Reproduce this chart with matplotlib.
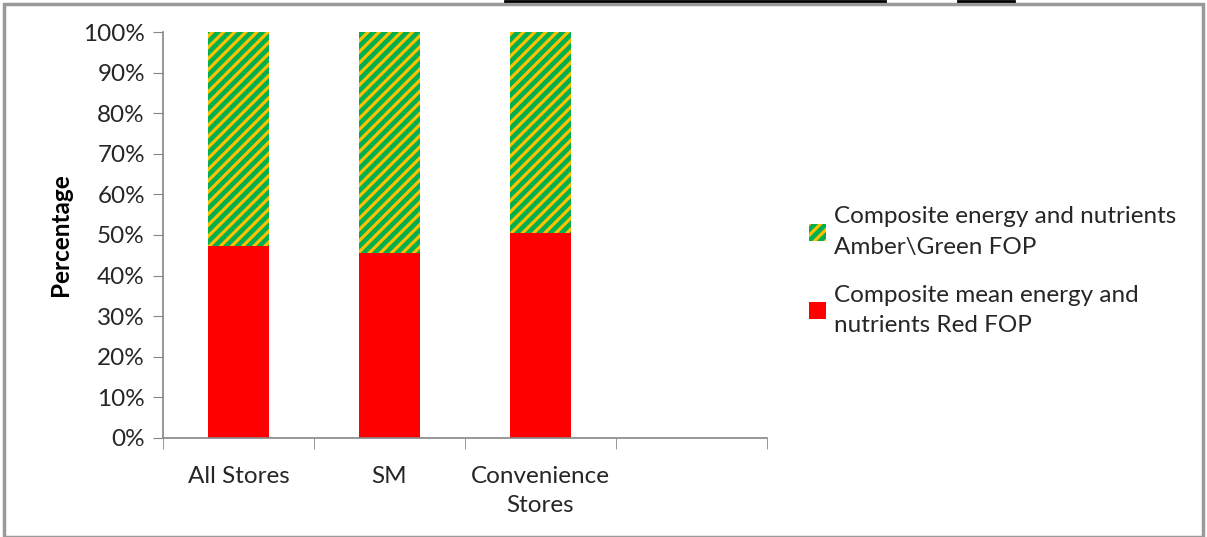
import numpy as np
import matplotlib
matplotlib.use("Agg")
import matplotlib.pyplot as plt
from matplotlib.lines import Line2D
from matplotlib.patches import Rectangle

# Data
categories = ["All Stores", "SM", "Convenience\nStores", ""]
red_fop = [47.3, 45.6, 50.5, 0]
amber_green_fop = [52.7, 54.4, 49.5, 0]
y_ticks = [0, 10, 20, 30, 40, 50, 60, 70, 80, 90, 100]
y_tick_labels = [f"{v}%" for v in y_ticks]
label_amber = "Composite energy and nutrients\nAmber\\Green FOP"
label_red = "Composite mean energy and\nnutrients Red FOP"

plt.rcParams['font.family'] = ['Lato', 'DejaVu Sans']
plt.rcParams['hatch.linewidth'] = 2.3

GREEN = "#00B050"
ORANGE = "#FFC000"
RED = "#FF0000"
AXIS = "#868686"
TEXT = "#262626"
FS = 17.5

fig = plt.figure(figsize=(12.07, 5.37), dpi=100)
ax = fig.add_axes([0.135, 0.1844, 0.5005, 0.756])

x = np.arange(len(categories))
n_bars = 3
ax.bar(x[:n_bars], red_fop[:n_bars], width=0.4, color=RED, label=label_red)
ax.bar(x[:n_bars], amber_green_fop[:n_bars], width=0.4, bottom=red_fop[:n_bars],
       facecolor=GREEN, edgecolor=ORANGE, hatch="///", linewidth=0,
       label=label_amber)

ax.set_xlim(-0.5, len(categories) - 0.5)
ax.set_ylim(0, 100)
ax.set_yticks(y_ticks)
ax.set_yticklabels(y_tick_labels, fontsize=FS, color=TEXT)
ax.set_xticks(x)
ax.set_xticklabels(categories, fontsize=FS, color=TEXT, linespacing=1.5)
ax.set_xticks(np.arange(-0.5, len(categories), 1), minor=True)
ax.tick_params(axis="x", which="major", length=0, pad=20)
ax.tick_params(axis="x", which="minor", length=8, color=AXIS, direction="out")
ax.tick_params(axis="y", length=7, color=AXIS, direction="out", pad=6)

for side in ["top", "right"]:
    ax.spines[side].set_visible(False)
for side in ["left", "bottom"]:
    ax.spines[side].set_color(AXIS)
    ax.spines[side].set_linewidth(1.2)

ax.set_ylabel("Percentage", fontsize=FS, fontweight="bold", labelpad=8)

handles, labels = ax.get_legend_handles_labels()
leg = fig.legend(handles[::-1], labels[::-1], loc="center left",
                 bbox_to_anchor=(0.652, 0.495), frameon=False, fontsize=FS,
                 handlelength=0.7, handleheight=0.7, handletextpad=0.35,
                 labelspacing=1.1)
for t in leg.get_texts():
    t.set_color(TEXT)
    t.set_linespacing(1.55)

# outer frame and cut-off lines at top
fig.add_artist(Rectangle((0.003, 0.0), 0.994, 0.993, transform=fig.transFigure,
                         fill=False, edgecolor="#9a9a9a", linewidth=2.5))
fig.add_artist(Line2D([505 / 1207, 885 / 1207], [0.998, 0.998],
                      transform=fig.transFigure, color="black", linewidth=2))
fig.add_artist(Line2D([958 / 1207, 1014 / 1207], [0.998, 0.998],
                      transform=fig.transFigure, color="black", linewidth=2))

fig.savefig("out.png", dpi=100)
